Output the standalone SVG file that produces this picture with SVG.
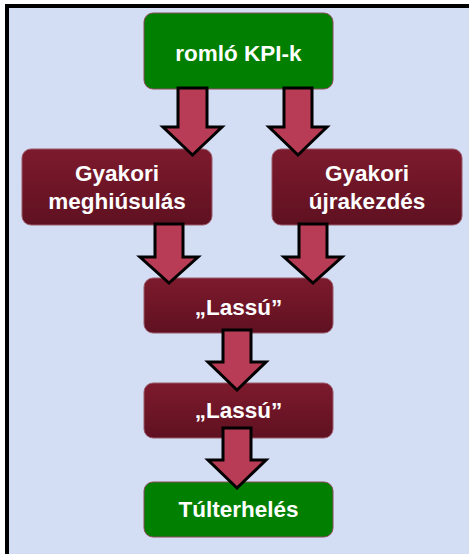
<svg xmlns="http://www.w3.org/2000/svg" width="469" height="554" viewBox="0 0 469 554">
<defs>
<linearGradient id="mar" x1="0" y1="0" x2="0" y2="1">
<stop offset="0" stop-color="#7D1A2D"/>
<stop offset="1" stop-color="#5F1121"/>
</linearGradient>
<style>
.green{fill:#007F00;stroke:#8C4A5A;stroke-width:1}
.maroon{fill:url(#mar);stroke:#9A5A6A;stroke-width:1}
.t{font-family:"Liberation Sans",Arial,sans-serif;font-weight:bold;font-size:22.5px;fill:#FFFFFF;text-anchor:middle}
.arr{fill:#B83C55;stroke:#000000;stroke-width:3;stroke-linejoin:miter}
</style>
</defs>
<rect x="0" y="0" width="469" height="554" fill="#FFFFFF"/>
<rect x="7" y="6" width="480" height="570" fill="#D3DEF5" stroke="#000000" stroke-width="4"/>
<g id="n1"><rect class="green" x="144" y="13" width="189" height="76" rx="9"/><text class="t" x="238.5" y="61">romló KPI-k</text></g>
<g id="n2"><rect class="maroon" x="22" y="149" width="190" height="76" rx="9"/><text class="t" x="117" y="181">Gyakori</text><text class="t" x="117" y="209">meghiúsulás</text></g>
<g id="n3"><rect class="maroon" x="272" y="149" width="190" height="76" rx="9"/><text class="t" x="367" y="181">Gyakori</text><text class="t" x="367" y="209">újrakezdés</text></g>
<g id="n4"><rect class="maroon" x="144" y="278" width="189" height="55" rx="9"/><text class="t" x="238.5" y="315">„Lassú”</text></g>
<g id="n5"><rect class="maroon" x="144" y="383" width="189" height="55" rx="9"/><text class="t" x="238.5" y="418">„Lassú”</text></g>
<g id="n6"><rect class="green" x="144" y="482" width="189" height="55" rx="9"/><text class="t" x="238.5" y="517">Túlterhelés</text></g>
<g id="connectors">
<polygon class="arr" points="178,88 207,88 207,127 222,127 192.5,155 163,127 178,127"/>
<polygon class="arr" points="284,88 312,88 312,127 327,127 298,155 269,127 284,127"/>
<polygon class="arr" points="155,224 183,224 183,257 198,257 169,283 140,257 155,257"/>
<polygon class="arr" points="299,224 327,224 327,257 342,257 313,283 284,257 299,257"/>
<polygon class="arr" points="223,330 251,330 251,362 266,362 237,390 208,362 223,362"/>
<polygon class="arr" points="223,428 251,428 251,460 266,460 237,488 208,460 223,460"/>
</g>
</svg>
